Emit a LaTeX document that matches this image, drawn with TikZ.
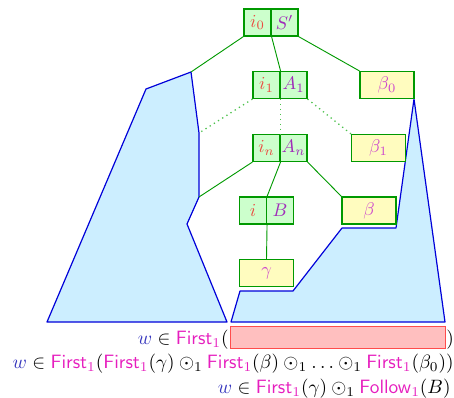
\documentclass[tikz,border=0pt]{standalone}
\usepackage{amsmath}
\usepackage{amssymb}
\usepackage{tikz}
\usepackage{xcolor}
\usetikzlibrary{positioning,calc}

\definecolor{idxred}{RGB}{235,75,65}
\definecolor{symviol}{RGB}{160,45,185}
\definecolor{strmag}{RGB}{205,70,205}
\definecolor{fstmag}{RGB}{230,30,190}
\definecolor{wblue}{RGB}{55,55,190}
\definecolor{treefill}{RGB}{204,238,255}

\newcommand{\Fst}{\textcolor{fstmag}{\mathsf{First}_1}}
\newcommand{\Flw}{\textcolor{fstmag}{\mathsf{Follow}_1}}
\newcommand{\ww}{\textcolor{wblue}{w}}

\begin{document}
\begin{tikzpicture}[
  x=0.5463pt, y=-0.5463pt,
  cell/.style={draw=green!60!black, fill=green!20, inner sep=0pt, line width=0.6pt,
    minimum width=14.75pt, minimum height=14.75pt},
  strbox/.style={draw=green!60!black, fill=yellow!25, inner sep=0pt, line width=0.6pt,
    minimum width=29.5pt, minimum height=14.75pt},
  edge/.style={draw=green!60!black, line width=0.5pt},
  dotedge/.style={draw=green!65!black!70, line width=0.7pt, dotted},
  tree/.style={draw=blue!85!black, fill=treefill, line width=0.65pt, line join=round},
  formula/.style={inner sep=0pt, scale=1.055}
]
  \useasboundingbox (0,0) rectangle (454,397);

  % Left context of the derivation
  \coordinate (L1) at (191,72);
  \coordinate (L2) at (199,133);
  \coordinate (L3) at (199,197);
  \draw[tree] (47,322) -- (146,89) -- (L1) -- (L2) -- (L3)
    -- (187,224) -- (227,322) -- cycle;

  % Right context
  \draw[tree] (231,322) -- (240,291) -- (293,291) -- (342,228)
    -- (396,228) -- (414,99) -- (445,322) -- cycle;

  % Items
  \node[cell] (i0) at (257.5,22.5) {$\textcolor{idxred}{i_0}$};
  \node[cell] (S0) at (284.5,22.5) {$\textcolor{symviol}{S'}$};
  \node[cell] (i1) at (266.5,85) {$\textcolor{idxred}{i_1}$};
  \node[cell] (A1) at (293.5,85) {$\textcolor{symviol}{A_1}$};
  \node[strbox] (b0) at (387,85) {$\textcolor{strmag}{\beta_0}$};
  \node[cell] (in) at (266.5,148) {$\textcolor{idxred}{i_n}$};
  \node[cell] (An) at (293.5,148) {$\textcolor{symviol}{A_n}$};
  \node[strbox] (b1) at (378.5,148) {$\textcolor{strmag}{\beta_1}$};
  \node[cell] (ii) at (253,210.5) {$\textcolor{idxred}{i}$};
  \node[cell] (B) at (280,210.5) {$\textcolor{symviol}{B}$};
  \node[strbox] (bb) at (369,210.5) {$\textcolor{strmag}{\beta}$};
  \node[strbox] (gg) at (266.5,273) {$\textcolor{strmag}{\gamma}$};

  % Tree edges
  \draw[edge] (i0.south west) -- (L1);
  \draw[edge] (i0.south east) -- (i1.north east);
  \draw[edge] (S0.south east) -- (b0.north west);
  \draw[dotedge] (i1.south west) -- (L2);
  \draw[dotedge] (i1.south east) -- (in.north east);
  \draw[dotedge] (A1.south east) -- (b1.north west);
  \draw[edge] (in.south west) -- (L3);
  \draw[edge] (in.south east) -- (ii.north east);
  \draw[edge] (An.south east) -- (bb.north west);
  \draw[edge] (ii.south east) -- (gg.north);

  % Lookahead
  \node[draw=red!70, fill=red!25, inner sep=0pt, line width=0.6pt,
    minimum width=117.5pt, minimum height=12pt] (la) at (338,337.5) {};
  \node[formula, anchor=east] (t1) at (229,340)
    {$\ww\in\Fst($};
  \node[formula, anchor=west] (t1r) at ([yshift=-1.2pt]la.east) {$)$};
  \node[formula, anchor=east] (t2) at (454,364)
    {$\ww\in\Fst(\Fst(\gamma)\odot_1\Fst(\beta)\odot_1\ldots\odot_1\Fst(\beta_0))$};
  \node[formula, anchor=east] (t3) at (451,388.5)
    {$\ww\in\Fst(\gamma)\odot_1\Flw(B)$};
\end{tikzpicture}
\end{document}
